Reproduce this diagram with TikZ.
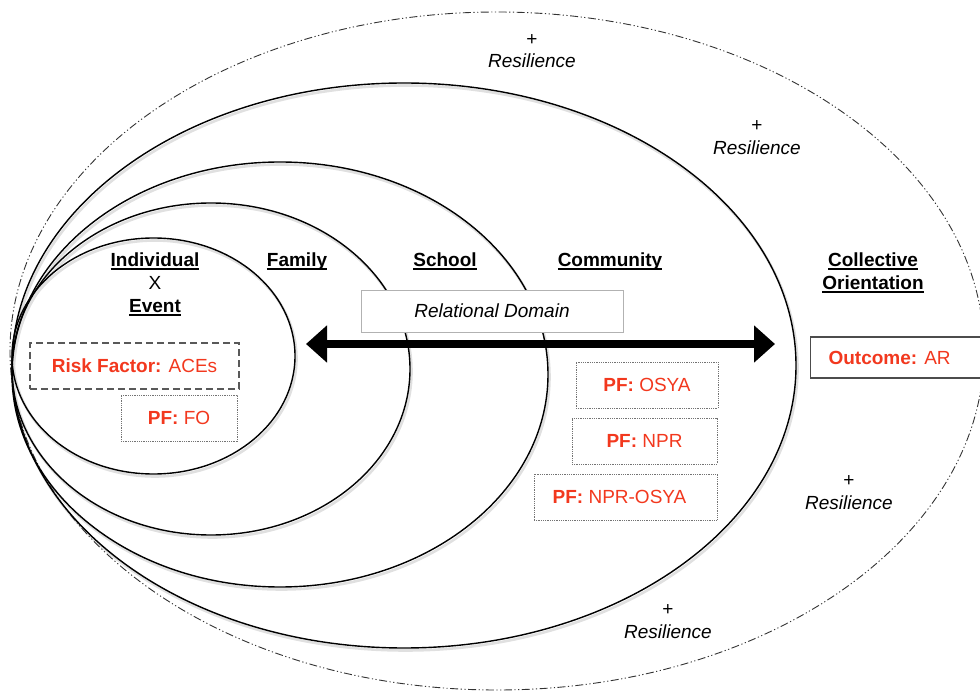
\documentclass[tikz,border=0pt]{standalone}
\usepackage{fontspec}
\setmainfont{Liberation Sans}
\usetikzlibrary{arrows.meta}
\definecolor{pfred}{RGB}{242,56,30}
\newcommand\ulbl[1]{\setbox0\hbox{#1}\rlap{\rule[-2.6pt]{\wd0}{1.3pt}}\box0}
\begin{document}
\begin{tikzpicture}[x=1pt,y=-1pt,
  every node/.style={font=\fontsize{19}{22}\selectfont, inner sep=0pt},
  ring/.style={line width=1.4pt, draw=black},
  ringshadow/.style={line width=2.6pt, draw=black!12},
  outerring/.style={line width=0.9pt, draw=black!80, dash pattern=on 8pt off 2.5pt on 1.2pt off 2.5pt on 1.2pt off 2.5pt},
  lbl/.style={anchor=base, font=\fontsize{19}{22}\selectfont\bfseries},
  plus/.style={anchor=base},
  resil/.style={anchor=base, font=\fontsize{19}{22}\selectfont\itshape},
  pfbox/.style={draw=black!55, line width=0.8pt, dash pattern=on 0.9pt off 0.9pt, minimum height=46pt, text=pfred},
  riskbox/.style={draw=black!65, line width=1.2pt, dash pattern=on 7pt off 4pt, minimum height=46pt, text=pfred},
  relbox/.style={draw=black!30, line width=0.9pt, fill=white, minimum width=262pt, minimum height=42pt, font=\fontsize{19}{22}\selectfont\itshape},
  outbox/.style={draw=black!70, line width=1.1pt, fill=white, minimum height=41pt, text=pfred, anchor=west, inner xsep=18pt},
  bigarrow/.style={line width=8pt, {Triangle[length=21pt,width=36pt]}-{Triangle[length=21pt,width=36pt]}}
]
\useasboundingbox (0,0) rectangle (980,692);

% shadows of rings
\begin{scope}[shift={(1.5,2.5)}]
\draw[ringshadow] (153.5,356) ellipse [x radius=141.5pt, y radius=118pt];
\draw[ringshadow] (211,369) ellipse [x radius=199pt, y radius=166pt];
\draw[ringshadow] (280,374.5) ellipse [x radius=268pt, y radius=212.5pt];
\draw[ringshadow] (404,365.5) ellipse [x radius=392pt, y radius=282.5pt];
\end{scope}

% rings
\draw[outerring] (497,351) ellipse [x radius=487pt, y radius=339pt];
\draw[ring] (404,365.5) ellipse [x radius=392pt, y radius=282.5pt];
\draw[ring] (280,374.5) ellipse [x radius=268pt, y radius=212.5pt];
\draw[ring] (211,369) ellipse [x radius=199pt, y radius=166pt];
\draw[ring] (153.5,356) ellipse [x radius=141.5pt, y radius=118pt];

% level labels
\node[lbl] (ind) at (155,267) {\ulbl{Individual}};
\node[plus] (x) at (155,290) {X};
\node[lbl] (ev) at (155,313) {\ulbl{Event}};
\node[lbl] (fam) at (297,267) {\ulbl{Family}};
\node[lbl] (sch) at (445,267) {\ulbl{School}};
\node[lbl] (com) at (610,267) {\ulbl{Community}};
\node[lbl] (col) at (873,267) {\ulbl{Collective}};
\node[lbl] (ori) at (873,290) {\ulbl{Orientation}};

% resilience labels
\node[plus] (p1) at (532,45.5) {+};
\node[resil] (r1) at (532,68) {Resilience};
\node[plus] (p2) at (757,132) {+};
\node[resil] (r2) at (757,155) {Resilience};
\node[plus] (p3) at (849,486) {+};
\node[resil] (r3) at (849,509) {Resilience};
\node[plus] (p4) at (668,615) {+};
\node[resil] (r4) at (668,638) {Resilience};

% relational domain
\node[relbox] (rel) at (492,311) {Relational Domain};
\coordinate (arL) at (306,344);
\coordinate (arR) at (775,344);
\draw[bigarrow] (arL) -- (arR);

% factor boxes
\node[riskbox, minimum width=209pt] (risk) at (134.5,366) {\textbf{Risk Factor:} ACEs};
\node[pfbox, minimum width=116pt] (fo) at (179,418) {\textbf{PF:} FO};
\node[pfbox, minimum width=142pt] (osya) at (647,385) {\textbf{PF:} OSYA};
\node[pfbox, minimum width=145pt] (npr) at (644.5,441) {\textbf{PF:} NPR};
\node[pfbox, minimum width=183pt] (nprosya) at (625.5,497) {\textbf{PF:} NPR-OSYA\kern12pt};
\node[outbox] (out) at (810,357.5) {\textbf{Outcome:} AR\kern40pt};
\end{tikzpicture}
\end{document}
